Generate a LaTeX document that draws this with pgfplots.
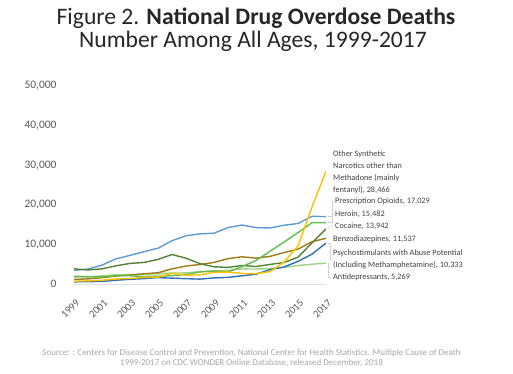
\documentclass[border=0pt]{standalone}
\usepackage{pgfplots}
\usepackage{pgfplotstable}
\pgfplotsset{compat=1.18}
\usepackage{fontspec}
\setmainfont{Carlito}
\definecolor{crx}{HTML}{5B9BD5}
\definecolor{cher}{HTML}{66BB50}
\definecolor{cfen}{HTML}{FFC000}
\definecolor{ccoc}{HTML}{548235}
\definecolor{cben}{HTML}{9E7B12}
\definecolor{cpsy}{HTML}{2F6EB0}
\definecolor{cant}{HTML}{9BD37E}
\definecolor{ctick}{HTML}{595959}
\definecolor{clab}{HTML}{404040}
\pgfplotstableread{
year rx heroin fent cocaine benzo psycho antidep
1999 3442 1960 730 3822 1135 547 1749
2000 3785 1842 782 3544 1298 578 1787
2001 4770 1779 957 3833 1594 660 2067
2002 6349 2089 1295 4599 2004 957 2319
2003 7223 2080 1400 5199 2248 1179 2351
2004 8165 1878 1664 5443 2585 1354 2457
2005 9036 2009 1742 6208 2834 1616 2630
2006 10931 2088 2707 7448 3835 1478 2755
2007 12190 2399 2213 6512 4533 1342 2803
2008 12662 3041 2306 5129 4925 1229 3116
2009 12820 3278 2946 4350 5442 1537 3323
2010 14248 3036 3007 4183 6393 1667 3446
2011 14888 4397 2666 4681 6872 2072 3805
2012 14240 5925 2628 4404 6524 2475 3793
2013 14145 8257 3105 4944 6973 3627 3862
2014 14838 10574 5544 5415 7945 4298 4192
2015 15281 12989 9580 6784 8791 5716 4667
2016 17087 15469 19413 10375 10684 7542 4990
2017 17029 15482 28466 13942 11537 10333 5269
}\datatable
\begin{document}
\begin{tikzpicture}
\path[use as bounding box] (0,0) rectangle (513bp,374bp);
\begin{axis}[
  at={(74bp,90bp)}, anchor=south west,
  scale only axis, width=252bp, height=198bp,
  xmin=1999, xmax=2017, ymin=0, ymax=50000,
  axis x line*=bottom, axis y line*=left,
  x axis line style={draw=gray!25, -},
  y axis line style={draw=none},
  major tick length=0pt,
  xtick={1999,2001,...,2017},
  ytick={0,10000,...,50000},
  scaled y ticks=false,
  /pgf/number format/assume math mode=true,
  yticklabel style={/pgf/number format/1000 sep={,}, font=\fontsize{11.5}{13}\selectfont, text=ctick, xshift=-14bp},
  xticklabel style={/pgf/number format/1000 sep={}, font=\fontsize{10.5}{12}\selectfont, text=ctick, rotate=45, anchor=north east, xshift=-6bp, yshift=-8bp},
  every axis plot/.append style={line width=1.4bp, no marks},
]
\addplot[crx] table[x=year,y=rx] {\datatable};
\addplot[cant] table[x=year,y=antidep] {\datatable};
\addplot[cben] table[x=year,y=benzo] {\datatable};
\addplot[ccoc] table[x=year,y=cocaine] {\datatable};
\addplot[cpsy] table[x=year,y=psycho] {\datatable};
\addplot[cher] table[x=year,y=heroin] {\datatable};
\addplot[cfen] table[x=year,y=fent] {\datatable};
\end{axis}
% titles
\node[font=\fontsize{23.7}{26}\selectfont, text=black!85] at (256bp,356bp) {Figure 2. \textbf{National Drug Overdose Deaths}};
\node[font=\fontsize{23.7}{26}\selectfont, text=black!85] at (253bp,333bp) {Number Among All Ages, 1999-2017};
% leader lines
\begin{scope}[draw=gray!35, line width=0.5bp]
\draw (328bp,157.4bp) -- (332bp,157.4bp) -- (332bp,173bp) -- (334bp,173bp);
\draw (328bp,151.3bp) -- (332bp,151.3bp) -- (332bp,160bp) -- (334bp,160bp);
\draw (328bp,145.2bp) -- (332bp,148bp) -- (334bp,148bp);
\draw (328bp,130.9bp) -- (330bp,130.9bp) -- (330bp,115bp) -- (332bp,115bp);
\draw (328bp,110.9bp) -- (328bp,97bp) -- (332bp,97bp);
\end{scope}
% labels
\begin{scope}[every node/.style={font=\fontsize{8.3}{12}\selectfont, text=clab, inner sep=0pt, anchor=west, align=left}]
\node at (333bp,202bp) {Other Synthetic\\Narcotics other than\\Methadone (mainly\\fentanyl), 28,466};
\node at (335bp,173bp) {Prescription Opioids, 17,029};
\node at (335bp,160bp) {Heroin, 15,482};
\node at (335bp,148bp) {Cocaine, 13,942};
\node at (333bp,135bp) {Benzodiazepines, 11,537};
\node at (333bp,115bp) {Psychostimulants with Abuse Potential\\(Including Methamphetamine), 10,333};
\node at (333bp,97bp) {Antidepressants, 5,269};
\end{scope}
% source
\node[font=\fontsize{9}{10.5}\selectfont, text=gray!70, align=center] at (251.5bp,16bp) {Source: : Centers for Disease Control and Prevention, National Center for Health Statistics. Multiple Cause of Death\\1999-2017 on CDC WONDER Online Database, released December, 2018};
\end{tikzpicture}
\end{document}
